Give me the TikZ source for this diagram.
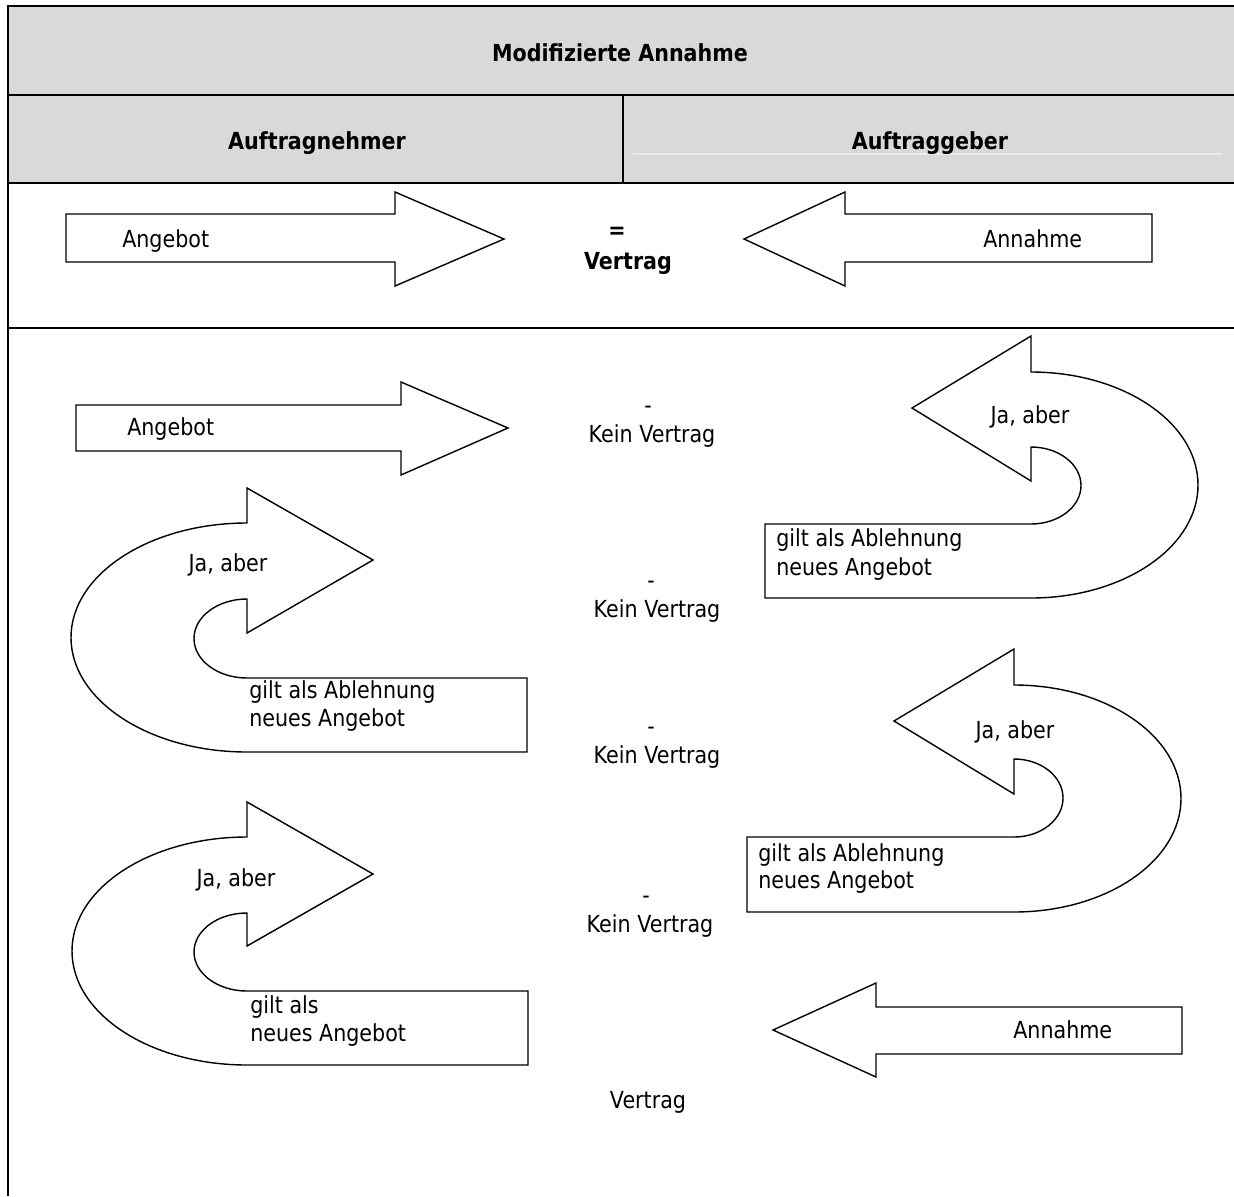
\documentclass[tikz,border=0pt]{standalone}
\usepackage{fontspec}
\newfontfamily\tah[FakeStretch=0.88]{DejaVu Sans}
\definecolor{hdr}{HTML}{D9D9D9}
\definecolor{faint}{HTML}{EAEAEA}
\begin{document}
\begin{tikzpicture}[x=0.75pt,y=-0.75pt,
  bord/.style={line width=1.7pt},
  thinbord/.style={line width=1.2pt},
  shp/.style={draw, line width=1.05pt, fill=white, line join=miter},
  txt/.style={font=\tah\fontsize{17.6}{21}\selectfont, inner sep=0pt},
  hd/.style={font=\tah\bfseries\fontsize{17.6}{21}\selectfont, inner sep=0pt}]
\useasboundingbox (0,0) rectangle (1234,1196);
% header background
\fill[hdr] (8,6) rectangle (1234,183);
\draw[faint, line width=0.8pt] (633,154) -- (1222,154);
% table lines
\draw[bord] (8,6) -- (1234,6);
\draw[bord] (8,95) -- (1234,95);
\draw[bord] (8,183) -- (1234,183);
\draw[bord] (8,328) -- (1234,328);
\draw[bord] (8,5) -- (8,1196);
\draw[thinbord] (623,95) -- (623,183);
% header texts
\node[hd, anchor=base] (title) at (620,61) {Modifizierte Annahme};
\node[hd, anchor=base] (an) at (317,149) {Auftragnehmer};
\node[hd, anchor=base] (ag) at (930,149) {Auftraggeber};
% row A
\draw[shp] (66,214) -- (395,214) -- (395,192) -- (504,239) -- (395,286) -- (395,262) -- (66,262) -- cycle;
\draw[shp] (744,239) -- (845,192) -- (845,214) -- (1152,214) -- (1152,262) -- (845,262) -- (845,286) -- cycle;
\node[txt, anchor=base west] (angA) at (122,247) {Angebot};
\node[txt, anchor=base west] (annA) at (983,247) {Annahme};
\node[hd, anchor=base] (eq) at (617,238) {=};
\node[hd, anchor=base] (vA) at (628,269) {Vertrag};
% row B straight arrow
\draw[shp] (76,405) -- (401,405) -- (401,382) -- (508,428) -- (401,475) -- (401,451) -- (76,451) -- cycle;
\node[txt, anchor=base west] (angB) at (127,435) {Angebot};
% right U-arrow 1
\draw[shp] (912,408) -- (1031,336) -- (1031,372)
  .. controls (1123.2,372) and (1198,422.6) .. (1198,485)
  .. controls (1198,547.4) and (1123.2,598) .. (1031,598)
  -- (765,598) -- (765,524) -- (1031,524)
  .. controls (1058.6,524) and (1081,506.8) .. (1081,485.5)
  .. controls (1081,464.2) and (1058.6,447) .. (1031,447)
  -- (1031,481) -- cycle;
\node[txt, anchor=base] (ja1) at (1030,423) {Ja, aber};
\node[txt, anchor=base west] (g1a) at (776,546) {gilt als Ablehnung};
\node[txt, anchor=base west] (g1b) at (776,575) {neues Angebot};
% left U-arrow 1
\draw[shp] (373,560) -- (247,488) -- (247,523)
  .. controls (149.8,523) and (71,574.3) .. (71,637.5)
  .. controls (71,700.7) and (149.8,752) .. (247,752)
  -- (527,752) -- (527,678) -- (247,678)
  .. controls (217.7,678) and (194,660.3) .. (194,638.5)
  .. controls (194,616.7) and (217.7,599) .. (247,599)
  -- (247,633) -- cycle;
\node[txt, anchor=base] (ja2) at (228,571) {Ja, aber};
\node[txt, anchor=base west] (g2a) at (249,698) {gilt als Ablehnung};
\node[txt, anchor=base west] (g2b) at (249,726) {neues Angebot};
% right U-arrow 2
\draw[shp] (894,721) -- (1014,649) -- (1014,685)
  .. controls (1106.2,685) and (1181,735.8) .. (1181,798.5)
  .. controls (1181,861.2) and (1106.2,912) .. (1014,912)
  -- (747,912) -- (747,837) -- (1014,837)
  .. controls (1041.1,837) and (1063,819.5) .. (1063,798)
  .. controls (1063,776.5) and (1041.1,759) .. (1014,759)
  -- (1014,794) -- cycle;
\node[txt, anchor=base] (ja3) at (1015,738) {Ja, aber};
\node[txt, anchor=base west] (g3a) at (758,861) {gilt als Ablehnung};
\node[txt, anchor=base west] (g3b) at (758,888) {neues Angebot};
% left U-arrow 2
\draw[shp] (373,874) -- (247,802) -- (247,837)
  .. controls (150.3,837) and (72,888) .. (72,951)
  .. controls (72,1014) and (150.3,1065) .. (247,1065)
  -- (528,1065) -- (528,991) -- (247,991)
  .. controls (217.7,991) and (194,973.5) .. (194,952)
  .. controls (194,930.5) and (217.7,913) .. (247,913)
  -- (247,946) -- cycle;
\node[txt, anchor=base] (ja4) at (236,886) {Ja, aber};
\node[txt, anchor=base west] (g4a) at (250,1013) {gilt als};
\node[txt, anchor=base west] (g4b) at (250,1041) {neues Angebot};
% bottom Annahme arrow
\draw[shp] (773,1030) -- (876,983) -- (876,1007) -- (1182,1007) -- (1182,1054) -- (876,1054) -- (876,1077) -- cycle;
\node[txt, anchor=base west] (annB) at (1013,1038) {Annahme};
% centre labels
\node[txt, anchor=base] (d1) at (648,413) {-};
\node[txt, anchor=base] (k1) at (652,442) {Kein Vertrag};
\node[txt, anchor=base] (d2) at (651,588) {-};
\node[txt, anchor=base] (k2) at (657,617) {Kein Vertrag};
\node[txt, anchor=base] (d3) at (651,734) {-};
\node[txt, anchor=base] (k3) at (657,763) {Kein Vertrag};
\node[txt, anchor=base] (d4) at (646,903) {-};
\node[txt, anchor=base] (k4) at (650,932) {Kein Vertrag};
\node[txt, anchor=base] (vB) at (648,1108) {Vertrag};
\end{tikzpicture}
\end{document}
